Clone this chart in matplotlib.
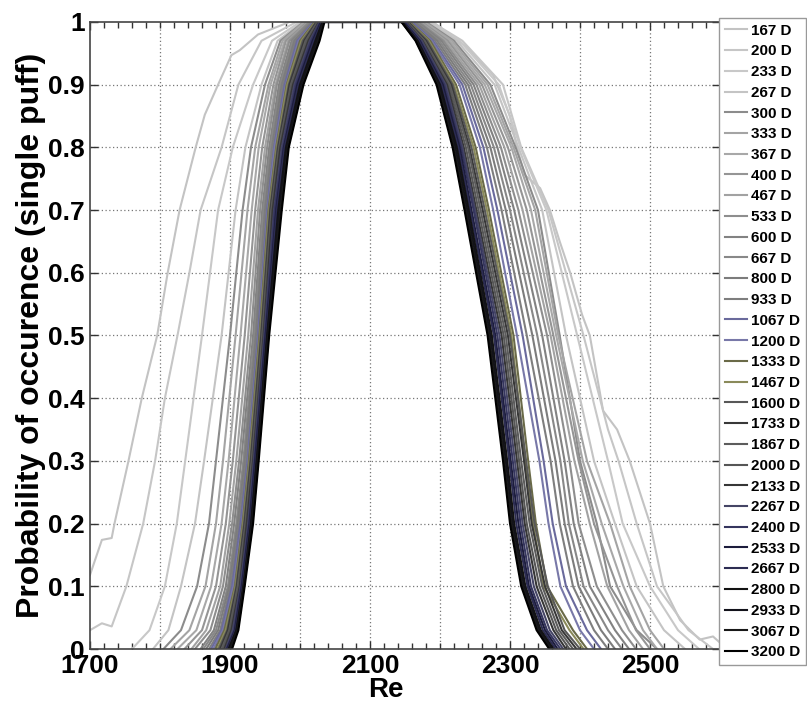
import numpy as np
import matplotlib
matplotlib.use('Agg')
import matplotlib.pyplot as plt
from matplotlib.ticker import MultipleLocator

plt.rcParams['font.family'] = ['Liberation Sans', 'DejaVu Sans']
plt.rcParams['font.weight'] = 'bold'

# Distancias aguas abajo (una curva por cada una)
distancias = [167, 200, 233, 267, 300, 333, 367, 400, 467, 533, 600, 667, 800, 933,
              1067, 1200, 1333, 1467, 1600, 1733, 1867, 2000, 2133, 2267, 2400,
              2533, 2667, 2800, 2933, 3067, 3200]

colores = ['#c3c3c3', '#c6c6c6', '#c8c8c8', '#c4c4c4', '#8c8c8c', '#a4a4a4', '#a8a8a8',
           '#959595', '#a2a2a2', '#8e8e8e', '#828282', '#888888', '#7c7c7c', '#7e7e7e',
           '#6a6a9c', '#7878a8', '#6a6a48', '#8a8a5a', '#585858', '#383838', '#5c5c5c',
           '#565656', '#363636', '#454565', '#35355e', '#1c1c3c', '#2c2c52', '#121212',
           '#12121a', '#181818', '#000000']

# Curva 167 D (puntos sueltos)
re_167 = [1700, 1717, 1731, 1735, 1755, 1774, 1796, 1811, 1828, 1851, 1864, 1883, 1902,
          1914, 1940, 1985, 2190, 2238, 2276, 2300, 2310, 2321, 2343, 2357, 2371, 2386,
          2403, 2414, 2433, 2453, 2471, 2500, 2519, 2543, 2571, 2590, 2600]
p_167 = [0.118, 0.174, 0.177, 0.2, 0.3, 0.4, 0.5, 0.6, 0.7, 0.8, 0.852, 0.9, 0.947,
         0.955, 0.98, 1.0, 1.0, 0.96, 0.915, 0.85, 0.8, 0.756, 0.735, 0.7, 0.65, 0.6,
         0.533, 0.5, 0.38, 0.35, 0.3, 0.2, 0.1, 0.046, 0.015, 0.02, 0.01]

# Curva 200 D
re_200 = [1700, 1717, 1731, 1752, 1776, 1793, 1807, 1825, 1842, 1858, 1888, 1912, 1945,
          1995, 2188, 2232, 2290, 2316, 2355, 2380, 2405, 2440, 2455, 2481, 2510, 2555,
          2590, 2600]
p_200 = [0.03, 0.041, 0.036, 0.1, 0.2, 0.3, 0.4, 0.5, 0.6, 0.7, 0.8, 0.9, 0.97, 1.0,
         1.0, 0.97, 0.9, 0.8, 0.7, 0.6, 0.5, 0.35, 0.3, 0.2, 0.1, 0.03, 0.0, 0.0]

# Resto de curvas: Re donde se alcanza cada nivel de probabilidad
niveles = [0, 0.03, 0.1, 0.2, 0.3, 0.5, 0.7, 0.8, 0.9, 0.97, 1.0]

# lado izquierdo (subida), de 233 D a 3200 D
subida = [
    [1760, 1785, 1807, 1824, 1836, 1860, 1883, 1904, 1933, 1960, 2000],
    [1790, 1812, 1830, 1850, 1863, 1888, 1908, 1922, 1945, 1968, 2003],
    [1805, 1830, 1853, 1870, 1880, 1900, 1918, 1930, 1950, 1972, 2005],
    [1815, 1842, 1865, 1880, 1890, 1908, 1925, 1936, 1955, 1975, 2006],
    [1825, 1852, 1873, 1888, 1898, 1915, 1931, 1941, 1958, 1978, 2008],
    [1835, 1860, 1880, 1894, 1904, 1921, 1936, 1946, 1962, 1980, 2010],
    [1845, 1866, 1886, 1899, 1909, 1926, 1940, 1950, 1965, 1983, 2012],
    [1850, 1872, 1890, 1903, 1913, 1930, 1943, 1953, 1967, 1985, 2013],
    [1858, 1877, 1894, 1906, 1916, 1933, 1946, 1956, 1970, 1988, 2015],
    [1862, 1880, 1897, 1909, 1919, 1935, 1948, 1958, 1972, 1990, 2016],
    [1866, 1883, 1899, 1911, 1921, 1937, 1950, 1960, 1974, 1992, 2017],
    [1870, 1886, 1901, 1913, 1923, 1939, 1952, 1962, 1976, 1994, 2018],
    [1873, 1888, 1903, 1915, 1925, 1940, 1953, 1963, 1978, 1996, 2019],
    [1876, 1890, 1905, 1917, 1926, 1941, 1954, 1964, 1980, 1998, 2020],
    [1879, 1892, 1907, 1918, 1927, 1942, 1955, 1966, 1981, 2000, 2021],
    [1882, 1894, 1908, 1919, 1928, 1943, 1956, 1967, 1982, 2002, 2022],
    [1884, 1896, 1909, 1920, 1929, 1944, 1957, 1968, 1984, 2004, 2023],
    [1886, 1897, 1910, 1921, 1930, 1945, 1958, 1969, 1985, 2006, 2024],
    [1888, 1899, 1911, 1922, 1931, 1946, 1959, 1970, 1987, 2008, 2025],
    [1890, 1900, 1913, 1923, 1932, 1947, 1960, 1971, 1988, 2010, 2026],
    [1892, 1902, 1914, 1924, 1933, 1948, 1961, 1972, 1990, 2012, 2027],
    [1894, 1904, 1915, 1926, 1934, 1949, 1963, 1974, 1992, 2014, 2028],
    [1895, 1906, 1916, 1927, 1935, 1950, 1964, 1976, 1994, 2016, 2029],
    [1896, 1907, 1917, 1928, 1936, 1951, 1966, 1977, 1996, 2018, 2030],
    [1897, 1908, 1918, 1929, 1937, 1952, 1967, 1978, 1998, 2020, 2031],
    [1898, 1909, 1919, 1930, 1938, 1953, 1969, 1980, 2000, 2022, 2032],
    [1900, 1910, 1920, 1931, 1939, 1954, 1970, 1981, 2002, 2024, 2033],
    [1901, 1911, 1920, 1932, 1940, 1955, 1972, 1983, 2004, 2026, 2034],
    [1903, 1912, 1921, 1933, 1941, 1956, 1974, 1984, 2005, 2028, 2035],
]

# lado derecho (bajada), niveles de 1 a 0
bajada = [
    [2185, 2228, 2284, 2315, 2352, 2396, 2440, 2461, 2500, 2540, 2570],
    [2182, 2224, 2278, 2312, 2346, 2380, 2420, 2450, 2481, 2520, 2550],
    [2180, 2220, 2272, 2308, 2340, 2371, 2400, 2424, 2443, 2481, 2510],
    [2178, 2217, 2268, 2305, 2336, 2369, 2410, 2443, 2471, 2500, 2520],
    [2176, 2214, 2264, 2302, 2330, 2366, 2404, 2431, 2462, 2490, 2510],
    [2174, 2211, 2260, 2297, 2324, 2362, 2398, 2420, 2453, 2480, 2500],
    [2172, 2208, 2256, 2292, 2318, 2358, 2392, 2414, 2439, 2470, 2490],
    [2170, 2205, 2252, 2287, 2312, 2353, 2385, 2398, 2424, 2460, 2480],
    [2168, 2202, 2248, 2282, 2306, 2346, 2378, 2391, 2414, 2450, 2470],
    [2166, 2199, 2244, 2277, 2300, 2339, 2372, 2384, 2405, 2440, 2460],
    [2164, 2196, 2240, 2272, 2294, 2332, 2365, 2378, 2398, 2430, 2450],
    [2162, 2193, 2236, 2267, 2288, 2324, 2358, 2371, 2390, 2420, 2440],
    [2160, 2190, 2232, 2262, 2282, 2318, 2348, 2361, 2380, 2410, 2430],
    [2158, 2188, 2228, 2257, 2276, 2310, 2342, 2355, 2372, 2400, 2420],
    [2157, 2186, 2223, 2251, 2270, 2305, 2326, 2337, 2353, 2390, 2410],
    [2156, 2184, 2220, 2248, 2267, 2302, 2322, 2333, 2348, 2385, 2405],
    [2155, 2182, 2218, 2245, 2264, 2300, 2323, 2335, 2354, 2378, 2400],
    [2154, 2180, 2216, 2242, 2261, 2297, 2320, 2331, 2350, 2374, 2395],
    [2153, 2178, 2214, 2240, 2258, 2294, 2316, 2328, 2346, 2370, 2390],
    [2152, 2177, 2212, 2237, 2255, 2291, 2313, 2324, 2342, 2366, 2385],
    [2151, 2175, 2210, 2234, 2252, 2288, 2310, 2321, 2338, 2362, 2380],
    [2150, 2174, 2208, 2232, 2250, 2285, 2307, 2318, 2334, 2357, 2376],
    [2149, 2172, 2206, 2230, 2248, 2282, 2304, 2315, 2330, 2353, 2372],
    [2148, 2171, 2204, 2228, 2245, 2279, 2301, 2312, 2327, 2350, 2368],
    [2147, 2170, 2202, 2226, 2243, 2277, 2299, 2309, 2325, 2347, 2365],
    [2146, 2168, 2200, 2224, 2241, 2274, 2296, 2306, 2322, 2344, 2362],
    [2146, 2167, 2199, 2222, 2239, 2272, 2294, 2304, 2320, 2342, 2360],
    [2145, 2166, 2197, 2220, 2237, 2270, 2292, 2302, 2318, 2340, 2358],
    [2145, 2165, 2195, 2218, 2235, 2268, 2290, 2300, 2316, 2338, 2356],
]

fig = plt.figure(figsize=(8.07, 7.11), dpi=100)
ax = fig.add_axes([0.1115, 0.0872, 0.7807, 0.8819])

# armamos x,y de cada curva
curvas = [(re_167, p_167), (re_200, p_200)]
for sub, baj in zip(subida, bajada):
    x = list(sub) + list(baj)
    y = list(niveles) + list(niveles[::-1])
    curvas.append((x, y))

for (x, y), c, d in zip(curvas, colores, distancias):
    ax.plot(x, y, '-', color=c, lw=1.5, label='%d D' % d)

ax.set_xlim(1700, 2600)
ax.set_ylim(0, 1)
ax.set_xticks([1700, 1900, 2100, 2300, 2500])
ax.xaxis.set_minor_locator(MultipleLocator(20))
ax.set_yticks(np.arange(0, 1.01, 0.1))
ax.set_yticklabels(['0', '0.1', '0.2', '0.3', '0.4', '0.5', '0.6', '0.7', '0.8', '0.9', '1'])
ax.tick_params(which='both', direction='in', top=True, right=True,
               labelsize=19, color='#333333')
ax.tick_params(which='major', length=6, width=1)
ax.tick_params(which='minor', length=4, width=1)

# rejilla punteada en las marcas mayores (x cada 100)
for xv in range(1800, 2600, 100):
    ax.axvline(xv, color='#777777', lw=0.9, ls=(0, (1, 2)), zorder=0)
for yv in np.arange(0.1, 1.0, 0.1):
    ax.axhline(yv, color='#777777', lw=0.9, ls=(0, (1, 2)), zorder=0)

for s in ax.spines.values():
    s.set_color('#444444')
    s.set_linewidth(1.2)

ax.set_xlabel('Re', fontsize=20, fontweight='bold', labelpad=-2)
ax.xaxis.set_label_coords(0.47, -0.045, transform=ax.transAxes)
ax.xaxis.label.set_va('top')
ax.set_ylabel('Probability of occurence (single puff)', fontsize=23,
              fontweight='bold', labelpad=2)

leg = ax.legend(loc='upper left', bbox_to_anchor=(0.999, 1.007), borderaxespad=0,
                fontsize=11, labelspacing=0.44, handlelength=1.4, handletextpad=0.25,
                borderpad=0.4, fancybox=False, framealpha=1)
leg.get_frame().set_edgecolor('#999999')
leg.get_frame().set_linewidth(1.0)
for t in leg.get_texts():
    t.set_fontweight('bold')

fig.savefig('out.png', dpi=100)
